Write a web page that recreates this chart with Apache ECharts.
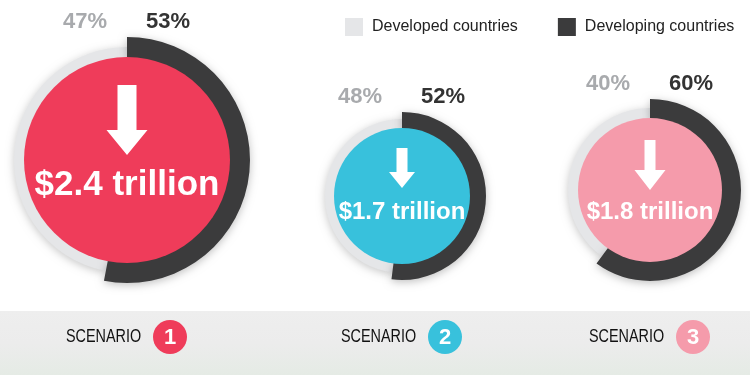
<!DOCTYPE html>
<html>
<head>
<meta charset="utf-8">
<script src="https://cdn.jsdelivr.net/npm/echarts@6/dist/echarts.min.js"></script>
<style>
html,body{margin:0;padding:0;background:#ffffff;}
#chart{width:750px;height:375px;}
</style>
</head>
<body>
<div id="chart"></div>
<script>
// ---- data ----
const scenarios = ['1', '2', '3'];
const developed = [47, 48, 40];
const developing = [53, 52, 60];
const savings = [2.4, 1.7, 1.8];
const groupNames = ['Developed countries', 'Developing countries'];

// ---- styling / layout ----
const fillColors = ['#ef3c5a', '#38c1dc', '#f59bab'];
const lightColor = '#e5e6e8';
const darkColor = '#3b3b3c';
const sans = "'Liberation Sans',Arial,sans-serif";
const layout = [
  {cx: 127, cy: 160, rFill: 103, rLight: 113, rDark: 123, textDy: 25, textSize: 35,
   arrow: {top: -75, len: 70, head: 25, shaft: 19, headW: 41}},
  {cx: 402, cy: 196, rFill: 68, rLight: 77, rDark: 84, textDy: 16, textSize: 24,
   arrow: {top: -48, len: 40, head: 16, shaft: 11, headW: 26}},
  {cx: 650, cy: 190, rFill: 72, rLight: 82, rDark: 91, textDy: 22, textSize: 24,
   arrow: {top: -50, len: 50, head: 20, shaft: 11, headW: 31}}
];

const series = [];
const graphic = [];

// bottom band
graphic.push({
  type: 'rect', z: -10,
  shape: {x: 0, y: 311, width: 750, height: 64},
  style: {fill: new echarts.graphic.LinearGradient(0, 0, 0, 1, [
    {offset: 0, color: '#eeeeee'}, {offset: 0.5, color: '#ececec'}, {offset: 1, color: '#e5ebe5'}
  ])}
});

scenarios.forEach(function (s, i) {
  const L = layout[i];
  const center = [L.cx, L.cy];
  // light ring (developed)
  series.push({
    type: 'pie', silent: true, animation: false, center: center,
    radius: [L.rFill - 2, L.rLight], startAngle: 90, clockwise: true,
    label: {show: false}, labelLine: {show: false},
    itemStyle: {shadowBlur: 8, shadowColor: 'rgba(0,0,0,0.22)', shadowOffsetY: 2},
    data: [
      {name: groupNames[1], value: developing[i], itemStyle: {color: 'rgba(0,0,0,0)', shadowBlur: 0}},
      {name: groupNames[0], value: developed[i], itemStyle: {color: lightColor}}
    ]
  });
  // dark ring (developing)
  series.push({
    type: 'pie', silent: true, animation: false, center: center,
    radius: [L.rFill - 2, L.rDark], startAngle: 90, clockwise: true,
    label: {show: false}, labelLine: {show: false},
    itemStyle: {shadowBlur: 8, shadowColor: 'rgba(0,0,0,0.25)', shadowOffsetY: 2},
    data: [
      {name: groupNames[1], value: developing[i], itemStyle: {color: darkColor}},
      {name: groupNames[0], value: developed[i], itemStyle: {color: 'rgba(0,0,0,0)', shadowBlur: 0}}
    ]
  });
  // filled centre with savings label
  series.push({
    type: 'pie', silent: true, animation: false, center: center,
    radius: [0, L.rFill], startAngle: 90,
    labelLine: {show: false},
    label: {
      show: true, position: 'center', offset: [0, L.textDy],
      formatter: '$' + savings[i].toFixed(1) + ' trillion',
      color: '#ffffff', fontFamily: sans, fontWeight: 'bold', fontSize: L.textSize
    },
    data: [{name: 'Scenario ' + s, value: savings[i], itemStyle: {color: fillColors[i]}}]
  });

  // arrow
  const a = L.arrow;
  const top = L.cy + a.top;
  graphic.push({
    type: 'polygon', z: 100,
    shape: {points: [
      [L.cx - a.shaft / 2, top], [L.cx + a.shaft / 2, top],
      [L.cx + a.shaft / 2, top + a.len - a.head], [L.cx + a.headW / 2, top + a.len - a.head],
      [L.cx, top + a.len],
      [L.cx - a.headW / 2, top + a.len - a.head], [L.cx - a.shaft / 2, top + a.len - a.head]
    ]},
    style: {fill: '#ffffff'}
  });

  // percentage labels
  const py = L.cy - L.rDark - 15;
  graphic.push({
    type: 'text', z: 100,
    style: {x: L.cx - 20, y: py, text: developed[i] + '%', align: 'right', verticalAlign: 'middle',
      fill: '#a8aaad', fontFamily: sans, fontWeight: 'bold', fontSize: 22}
  });
  graphic.push({
    type: 'text', z: 100,
    style: {x: L.cx + 19, y: py, text: developing[i] + '%', align: 'left', verticalAlign: 'middle',
      fill: '#333333', fontFamily: sans, fontWeight: 'bold', fontSize: 22}
  });

  // scenario label (condensed) + badge
  graphic.push({
    type: 'text', z: 100,
    x: L.cx - 61, y: 337, scaleX: 0.8,
    style: {x: 0, y: 0, text: 'SCENARIO', align: 'left', verticalAlign: 'middle',
      fill: '#111111', fontFamily: sans, fontSize: 18}
  });
  graphic.push({
    type: 'circle', z: 100,
    shape: {cx: L.cx + 43, cy: 337, r: 17},
    style: {fill: fillColors[i]}
  });
  graphic.push({
    type: 'text', z: 101,
    style: {x: L.cx + 43, y: 338, text: s, align: 'center', verticalAlign: 'middle',
      fill: '#ffffff', fontFamily: sans, fontWeight: 'bold', fontSize: 22}
  });
});

const chart = echarts.init(document.getElementById('chart'), null, {renderer: 'canvas'});
chart.setOption({
  animation: false,
  legend: {
    left: 340, top: 13, width: 410, itemWidth: 18, itemHeight: 18, itemGap: 40,
    icon: 'rect', selectedMode: false,
    textStyle: {fontFamily: sans, fontSize: 16, color: '#222222', padding: [0, 0, 0, 4]},
    data: [
      {name: groupNames[0], itemStyle: {color: lightColor, shadowBlur: 0}},
      {name: groupNames[1], itemStyle: {color: darkColor, shadowBlur: 0}}
    ]
  },
  series: series,
  graphic: graphic
});
</script>
</body>
</html>
